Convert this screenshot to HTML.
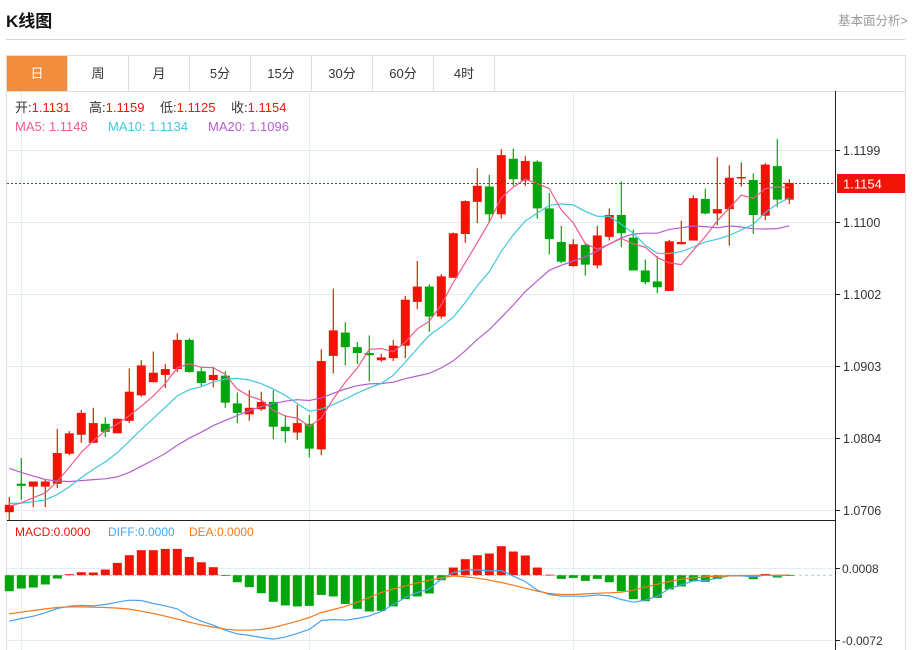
<!DOCTYPE html>
<html><head><meta charset="utf-8"><style>
body{margin:0;background:#fff;font-family:"Liberation Sans","Noto Sans CJK SC",sans-serif;}
#wrap{position:relative;width:913px;height:650px;overflow:hidden;}
.title{position:absolute;left:6px;top:7px;font-size:17px;font-weight:bold;color:#111;}
.more{position:absolute;left:838px;top:10px;font-size:12.5px;color:#999;}
.sep{position:absolute;left:6px;top:39px;width:899px;height:1px;background:#d4d4d4;}
.tabs{position:absolute;left:6px;top:55px;width:898px;height:35px;border:1px solid #ddd;border-bottom:1px solid #ddd;}
.tab{position:absolute;top:0;height:35px;width:61px;line-height:35px;text-align:center;font-size:13px;color:#333;border-right:1px solid #ddd;box-sizing:border-box;}
.tab.on{background:#f28c3d;color:#fff;}
</style></head><body>
<div id="wrap">
<div class="title">K线图</div>
<div class="more">基本面分析&gt;</div>
<div class="sep"></div>
<div class="tabs">
<div class="tab on" style="left:0">日</div>
<div class="tab" style="left:61px">周</div>
<div class="tab" style="left:122px">月</div>
<div class="tab" style="left:183px">5分</div>
<div class="tab" style="left:244px">15分</div>
<div class="tab" style="left:305px">30分</div>
<div class="tab" style="left:366px">60分</div>
<div class="tab" style="left:427px">4时</div>
</div>
<svg id="chart" width="913" height="650" style="position:absolute;left:0;top:0" font-family="Liberation Sans, Noto Sans CJK SC, sans-serif"></svg>
</div>
<script>
// ---- data ----
const priorCloses=[1.0850,1.0845,1.0838,1.0830,1.0822,1.0812,1.0800,1.0790,1.0778,1.0745,1.0735,1.0725,1.0720,1.0712,1.0703,1.0715,1.0710,1.0712,1.0705];
const opens=[1.0703,1.0742,1.0738,1.0738,1.0742,1.0783,1.0809,1.0798,1.0824,1.0811,1.0828,1.0863,1.0881,1.0891,1.0899,1.0939,1.0896,1.0884,1.0890,1.0852,1.0837,1.0844,1.0854,1.0820,1.0812,1.0824,1.0789,1.0917,1.0949,1.0929,1.0921,1.0911,1.0914,1.0931,1.0991,1.1012,1.0971,1.1024,1.1084,1.1128,1.1149,1.1111,1.1187,1.1157,1.1183,1.1119,1.1073,1.1040,1.1069,1.1041,1.1080,1.1110,1.1079,1.1034,1.1019,1.1006,1.1070,1.1075,1.1132,1.1112,1.1118,1.1160,1.1158,1.1109,1.1177,1.1131];
const highs=[1.0724,1.0777,1.0745,1.0748,1.0817,1.0814,1.0843,1.0846,1.0833,1.0831,1.0900,1.0911,1.0923,1.0906,1.0948,1.0941,1.0902,1.0902,1.0896,1.0867,1.0870,1.0868,1.0870,1.0836,1.0850,1.0836,1.0926,1.1009,1.0963,1.0936,1.0945,1.0920,1.0939,1.0999,1.1047,1.1015,1.1029,1.1086,1.1130,1.1174,1.1165,1.1200,1.1201,1.1191,1.1185,1.1140,1.1095,1.1077,1.1072,1.1095,1.1119,1.1156,1.1090,1.1049,1.1054,1.1076,1.1102,1.1137,1.1146,1.1189,1.1178,1.1182,1.1167,1.1181,1.1214,1.1159];
const lows=[1.0692,1.0720,1.0710,1.0710,1.0736,1.0781,1.0798,1.0798,1.0806,1.0811,1.0825,1.0861,1.0881,1.0873,1.0895,1.0894,1.0876,1.0874,1.0846,1.0825,1.0828,1.0842,1.0803,1.0798,1.0802,1.0778,1.0781,1.0893,1.0904,1.0906,1.0882,1.0909,1.0910,1.0914,1.0981,1.0950,1.0968,1.1024,1.1072,1.1099,1.1099,1.1105,1.1150,1.1150,1.1105,1.1056,1.1044,1.1039,1.1027,1.1037,1.1075,1.1066,1.1034,1.1015,1.1003,1.1006,1.1070,1.1075,1.1111,1.1096,1.1068,1.1149,1.1084,1.1103,1.1121,1.1125];
const closes=[1.0713,1.0739,1.0745,1.0745,1.0784,1.0811,1.0839,1.0825,1.0813,1.0831,1.0868,1.0904,1.0894,1.0899,1.0939,1.0895,1.0880,1.0891,1.0853,1.0839,1.0846,1.0854,1.0820,1.0814,1.0825,1.0790,1.0910,1.0952,1.0929,1.0921,1.0918,1.0915,1.0931,1.0994,1.1012,1.0971,1.1026,1.1085,1.1129,1.1150,1.1111,1.1192,1.1159,1.1184,1.1119,1.1077,1.1046,1.1070,1.1042,1.1082,1.1110,1.1085,1.1034,1.1018,1.1011,1.1074,1.1073,1.1133,1.1112,1.1118,1.1161,1.1162,1.1110,1.1179,1.1131,1.1154];
const priceTicks=[1.1199,1.1100,1.1002,1.0903,1.0804,1.0706];
// MACD values in units of 0.0001
const macdHist=[-17.8,-14.8,-13.7,-10.3,-3.7,1.1,3.3,3.0,6.3,13.7,22.2,27.8,27.8,29.2,29.2,20.3,14.4,8.9,-0.8,-7.8,-13.3,-20.0,-29.6,-33.6,-34.7,-34.1,-21.9,-23.6,-31.9,-37.4,-40.3,-39.6,-34.7,-26.6,-23.6,-20.3,-5.6,8.5,17.8,22.2,24.1,32.2,26.3,21.9,8.5,0.6,-4.1,-3.0,-6.3,-4.1,-7.8,-17.8,-26.6,-28.9,-25.2,-15.9,-12.5,-6.7,-7.4,-4.1,-1.1,-1.4,-4.4,1.4,-2.6,-0.3];
const diffVals=[-51.1,-48.1,-45.5,-41.8,-37.0,-34.4,-33.6,-34.1,-32.5,-30.0,-27.8,-28.1,-31.4,-34.1,-37.4,-45.5,-51.1,-55.5,-61.1,-65.2,-66.9,-69.2,-71.0,-68.8,-64.7,-60.3,-50.3,-49.2,-50.0,-48.1,-45.2,-40.3,-32.5,-24.8,-19.2,-15.2,-4.4,3.0,5.9,5.9,4.8,5.2,-1.1,-7.0,-16.7,-21.4,-23.3,-23.3,-23.3,-21.9,-23.0,-27.0,-30.0,-27.8,-23.3,-14.8,-10.8,-6.3,-5.9,-3.3,-0.8,-0.8,-1.9,0,-0.8,0.3];
const deaVals=[-43.0,-41.1,-39.2,-37.4,-35.9,-35.2,-35.2,-35.5,-35.9,-36.6,-37.7,-40.0,-42.5,-45.5,-48.8,-52.2,-55.2,-57.7,-59.9,-61.1,-61.1,-60.3,-58.1,-54.7,-51.1,-47.0,-41.4,-38.1,-34.7,-30.0,-24.8,-19.2,-15.2,-11.9,-8.5,-5.6,-3.0,-0.8,-1.9,-3.3,-5.6,-8.1,-11.1,-14.4,-17.8,-20.3,-21.4,-21.4,-20.8,-20.0,-19.6,-18.9,-16.7,-13.3,-10.0,-7.0,-4.4,-3.0,-1.9,-1.1,-0.8,-0.3,-0.3,0,0,0];
const macdTicks=[8,-72];

// ---- scales ----
const NS='http://www.w3.org/2000/svg';
const svg=document.getElementById('chart');
const xOf=i=>9.3+12*i;
const yP=p=>150+(1.1199-p)*7302;
const yM=v=>575.2-v*0.9;
function mk(tag,attrs,parent){const e=document.createElementNS(NS,tag);for(const k in attrs)e.setAttribute(k,attrs[k]);(parent||svg).appendChild(e);return e;}
const RED='#f01408',GREEN='#04a40f';

// frame / grid
const grid=mk('g',{});


mk('line',{x1:6.5,y1:91,x2:6.5,y2:650,stroke:'#ddd'},grid);
mk('line',{x1:905.5,y1:91,x2:905.5,y2:650,stroke:'#ddd'},grid);
priceTicks.forEach(t=>{const y=Math.round(yP(t))+0.5;mk('line',{x1:7,y1:y,x2:835,y2:y,stroke:'#e3ecf3'},grid);});
macdTicks.forEach(t=>{const y=Math.round(yM(t/1))+0.5;mk('line',{x1:7,y1:y,x2:835,y2:y,stroke:'#e3ecf3'},grid);});
[21.5,309.5,573.5].forEach(x=>mk('line',{x1:x,y1:91,x2:x,y2:650,stroke:'#e3ecf3'},grid));
mk('line',{x1:7,y1:520.5,x2:835,y2:520.5,stroke:'#222'},grid);
mk('line',{x1:835.5,y1:91,x2:835.5,y2:650,stroke:'#222'},grid);

// y axis labels
const ax=mk('g',{'font-size':'12.5',fill:'#333'});


priceTicks.forEach(t=>{const y=Math.round(yP(t))+0.5;mk('line',{x1:835,y1:y,x2:840,y2:y,stroke:'#222'},ax);const tx=mk('text',{x:843,y:y+4.5},ax);tx.textContent=t.toFixed(4);});
const mx=mk('g',{'font-size':'12','fill':'#333'});


macdTicks.forEach(t=>{const y=Math.round(yM(t))+0.5;mk('line',{x1:835,y1:y,x2:840,y2:y,stroke:'#222'},mx);const tx=mk('text',{x:842,y:y+4.5},mx);tx.textContent=(t/10000).toFixed(4);});

// candles
const cg=mk('g',{});


opens.forEach((o,i)=>{
  const c=closes[i],col=c>=o?RED:GREEN,x=xOf(i);
  const g=mk('g',{},cg);
  
  
  mk('line',{x1:x,y1:yP(highs[i]),x2:x,y2:yP(lows[i]),stroke:col,'stroke-width':1.2},g);
  const top=yP(Math.max(o,c)),bot=yP(Math.min(o,c));
  mk('rect',{x:x-4.5,y:top,width:9,height:Math.max(1.5,bot-top),fill:col},g);
});

// moving averages
const all=priorCloses.concat(closes);
function ma(n){return closes.map((_,i)=>{const j=i+priorCloses.length;let s=0;for(let k=j-n+1;k<=j;k++)s+=all[k];return s/n;});}
function poly(vals,yf,col,name){const p=mk('polyline',{points:vals.map((v,i)=>xOf(i)+','+yf(v).toFixed(1)).join(' '),fill:'none',stroke:col,'stroke-width':1.2});return p;}
const ma5=ma(5),ma10=ma(10),ma20=ma(20);
poly(ma20,yP,'#b65ed0','ma20-line');
poly(ma10,yP,'#3fc8dc','ma10-line');
poly(ma5,yP,'#ef5b8d','ma5-line');

// last price line & tag
const last=closes[closes.length-1];
const ly=Math.round(yP(last))+0.5;
const pl=mk('line',{x1:7,y1:ly,x2:835,y2:ly,stroke:'#ff0000','stroke-width':1,'stroke-dasharray':'2,2'});


const tg=mk('g',{});


mk('rect',{x:837,y:ly-9.5,width:68,height:19,fill:'#f01408'},tg);
const tt=mk('text',{x:843,y:ly+5,fill:'#fff','font-size':'13'},tg);tt.textContent=last.toFixed(4);

// MACD
const hg=mk('g',{});


const zy=yM(0);
mk('line',{x1:7,y1:zy,x2:835,y2:zy,stroke:'#a9c8e0','stroke-dasharray':'3,3'},hg);
macdHist.forEach((v,i)=>{const y=yM(v);const r=mk('rect',{x:xOf(i)-4.5,y:Math.min(y,zy),width:9,height:Math.max(0.8,Math.abs(y-zy)),fill:v>=0?RED:GREEN},hg);});
poly(diffVals,yM,'#4aa3ee','diff-line');
poly(deaVals,yM,'#f5791c','dea-line');

// legends
function txt(parent,x,y,parts,size,name){const t=mk('text',{x:x,y:y,'font-size':size},parent);parts.forEach(p=>{const s=mk('tspan',{fill:p[1]},t);s.textContent=p[0];});return t;}
const lg=mk('g',{});


txt(lg,15,112,[['开:','#333'],[opens[65].toFixed(4)+'  ','#f01408']],13,'open-value');
txt(lg,89,112,[['高:','#333'],[highs[65].toFixed(4),'#f01408']],13,'high-value');
txt(lg,160,112,[['低:','#333'],[lows[65].toFixed(4),'#f01408']],13,'low-value');
txt(lg,231,112,[['收:','#333'],[last.toFixed(4),'#f01408']],13,'close-value');
txt(lg,15,131,[['MA5: 1.1148','#ef5b8d']],13,'ma5-legend');
txt(lg,108,131,[['MA10: 1.1134','#3fc8dc']],13,'ma10-legend');
txt(lg,208,131,[['MA20: 1.1096','#b65ed0']],13,'ma20-legend');
const ml=mk('g',{});


txt(ml,15,536,[['MACD:0.0000','#f01408']],12,'macd-legend-value');
txt(ml,108,536,[['DIFF:0.0000','#4aa3ee']],12,'diff-legend-value');
txt(ml,189,536,[['DEA:0.0000','#f5791c']],12,'dea-legend-value');
</script>
</body></html>
